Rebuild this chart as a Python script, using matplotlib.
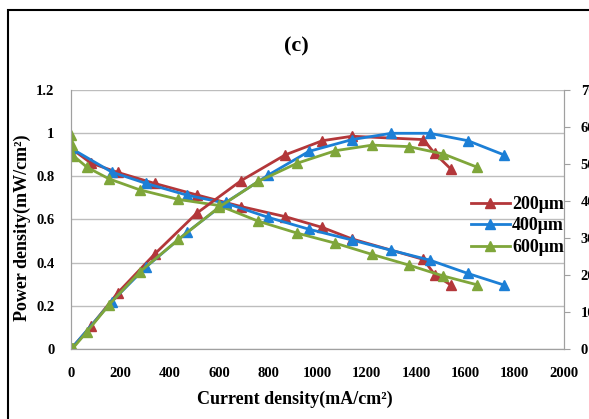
import matplotlib
matplotlib.use("Agg")
import matplotlib.pyplot as plt
from matplotlib.patches import Rectangle

# current density (mA/cm2) for each membrane thickness
i_200 = [0, 80, 190, 340, 510, 690, 870, 1020, 1140, 1430, 1475, 1540]
i_400 = [0, 165, 305, 470, 630, 800, 965, 1140, 1300, 1455, 1610, 1755]
i_600 = [0, 4, 10, 65, 155, 280, 436, 600, 760, 917, 1073, 1222, 1370, 1511, 1649]

# voltage-type curves on the left axis
v_200 = [0.93, 0.862, 0.818, 0.767, 0.714, 0.66, 0.613, 0.563, 0.51, 0.415, 0.345, 0.297]
v_400 = [0.93, 0.82, 0.767, 0.713, 0.675, 0.61, 0.555, 0.505, 0.457, 0.412, 0.35, 0.297]
v_600 = [0.99, 0.945, 0.895, 0.842, 0.788, 0.737, 0.693, 0.665, 0.592, 0.537, 0.49, 0.438, 0.389, 0.338, 0.297]

# power curves on the right axis
p_200 = [0, 6.1, 15.2, 25.7, 36.7, 45.5, 52.5, 56.3, 57.5, 56.6, 52.9, 48.7]
p_400 = [0, 12.8, 22.2, 31.5, 39.7, 47.0, 53.4, 56.6, 58.3, 58.3, 56.3, 52.5]
p_600 = [0, 0.2, 0.4, 4.7, 12.0, 20.9, 29.6, 38.3, 45.3, 50.2, 53.6, 55.1, 54.7, 52.7, 49.1]

labels = ["200\u03bcm", "400\u03bcm", "600\u03bcm"]
colors = ["#B3373A", "#1C7FD6", "#7FA63A"]

plt.rcParams['font.family'] = ['Liberation Serif', 'DejaVu Serif']
plt.rcParams['font.weight'] = 'bold'

fig = plt.figure(figsize=(5.89, 4.19), dpi=100)
fig.patches.append(Rectangle((8 / 589, -0.1), 1.2, 1 - 10 / 419 + 0.1,
                             transform=fig.transFigure, fill=False,
                             edgecolor='black', linewidth=1.5))

ax = fig.add_axes([71 / 589, 1 - 349 / 419, 493 / 589, 259 / 419])
ax2 = ax.twinx()

series = [(i_200, v_200, p_200), (i_400, v_400, p_400), (i_600, v_600, p_600)]
handles = []
for (x, v, p), lab, c in zip(series, labels, colors):
    h, = ax.plot(x, v, color=c, lw=2, marker='^', ms=7, label=lab)
    ax2.plot(x, p, color=c, lw=2, marker='^', ms=7)
    handles.append(h)

ax.set_xlim(0, 2000)
ax.set_ylim(0, 1.2)
ax2.set_ylim(0, 70)
ax.set_xticks(range(0, 2001, 200))
ax.set_yticks([0, 0.2, 0.4, 0.6, 0.8, 1.0, 1.2])
ax.set_yticklabels(["0", "0.2", "0.4", "0.6", "0.8", "1", "1.2"])
ax2.set_yticks(range(0, 71, 10))

ax.grid(axis='y', color='#BDBDBD', lw=1)
ax.set_axisbelow(True)
for a in (ax, ax2):
    for s in a.spines.values():
        s.set_color('#A0A0A0')
    a.spines['top'].set_visible(False)

ax.tick_params(axis='x', length=0, pad=13, labelsize=10.5)
ax.tick_params(axis='y', length=0, pad=12, labelsize=10.5)
ax2.tick_params(axis='y', length=4, color='#A0A0A0', pad=8, labelsize=10.5)

ax.set_xlabel("Current density(mA/cm\u00b2)", fontsize=13, fontweight='bold')
ax.set_ylabel("Power density(mW/cm\u00b2)", fontsize=13, fontweight='bold')
ax.xaxis.set_label_coords(0.453, -0.162)
ax.yaxis.set_label_coords(-0.082, 0.47)
fig.text(296 / 589, 1 - 46 / 419, "(c)", fontsize=16, fontweight='bold',
         ha='center', va='center')

ax2.legend(handles, labels, loc='center right', bbox_to_anchor=(1.0, 0.475),
           frameon=False, fontsize=13, handlelength=2.2, handletextpad=0.1,
           labelspacing=0.25, borderaxespad=0, borderpad=0)

fig.savefig("out.png", dpi=100)
